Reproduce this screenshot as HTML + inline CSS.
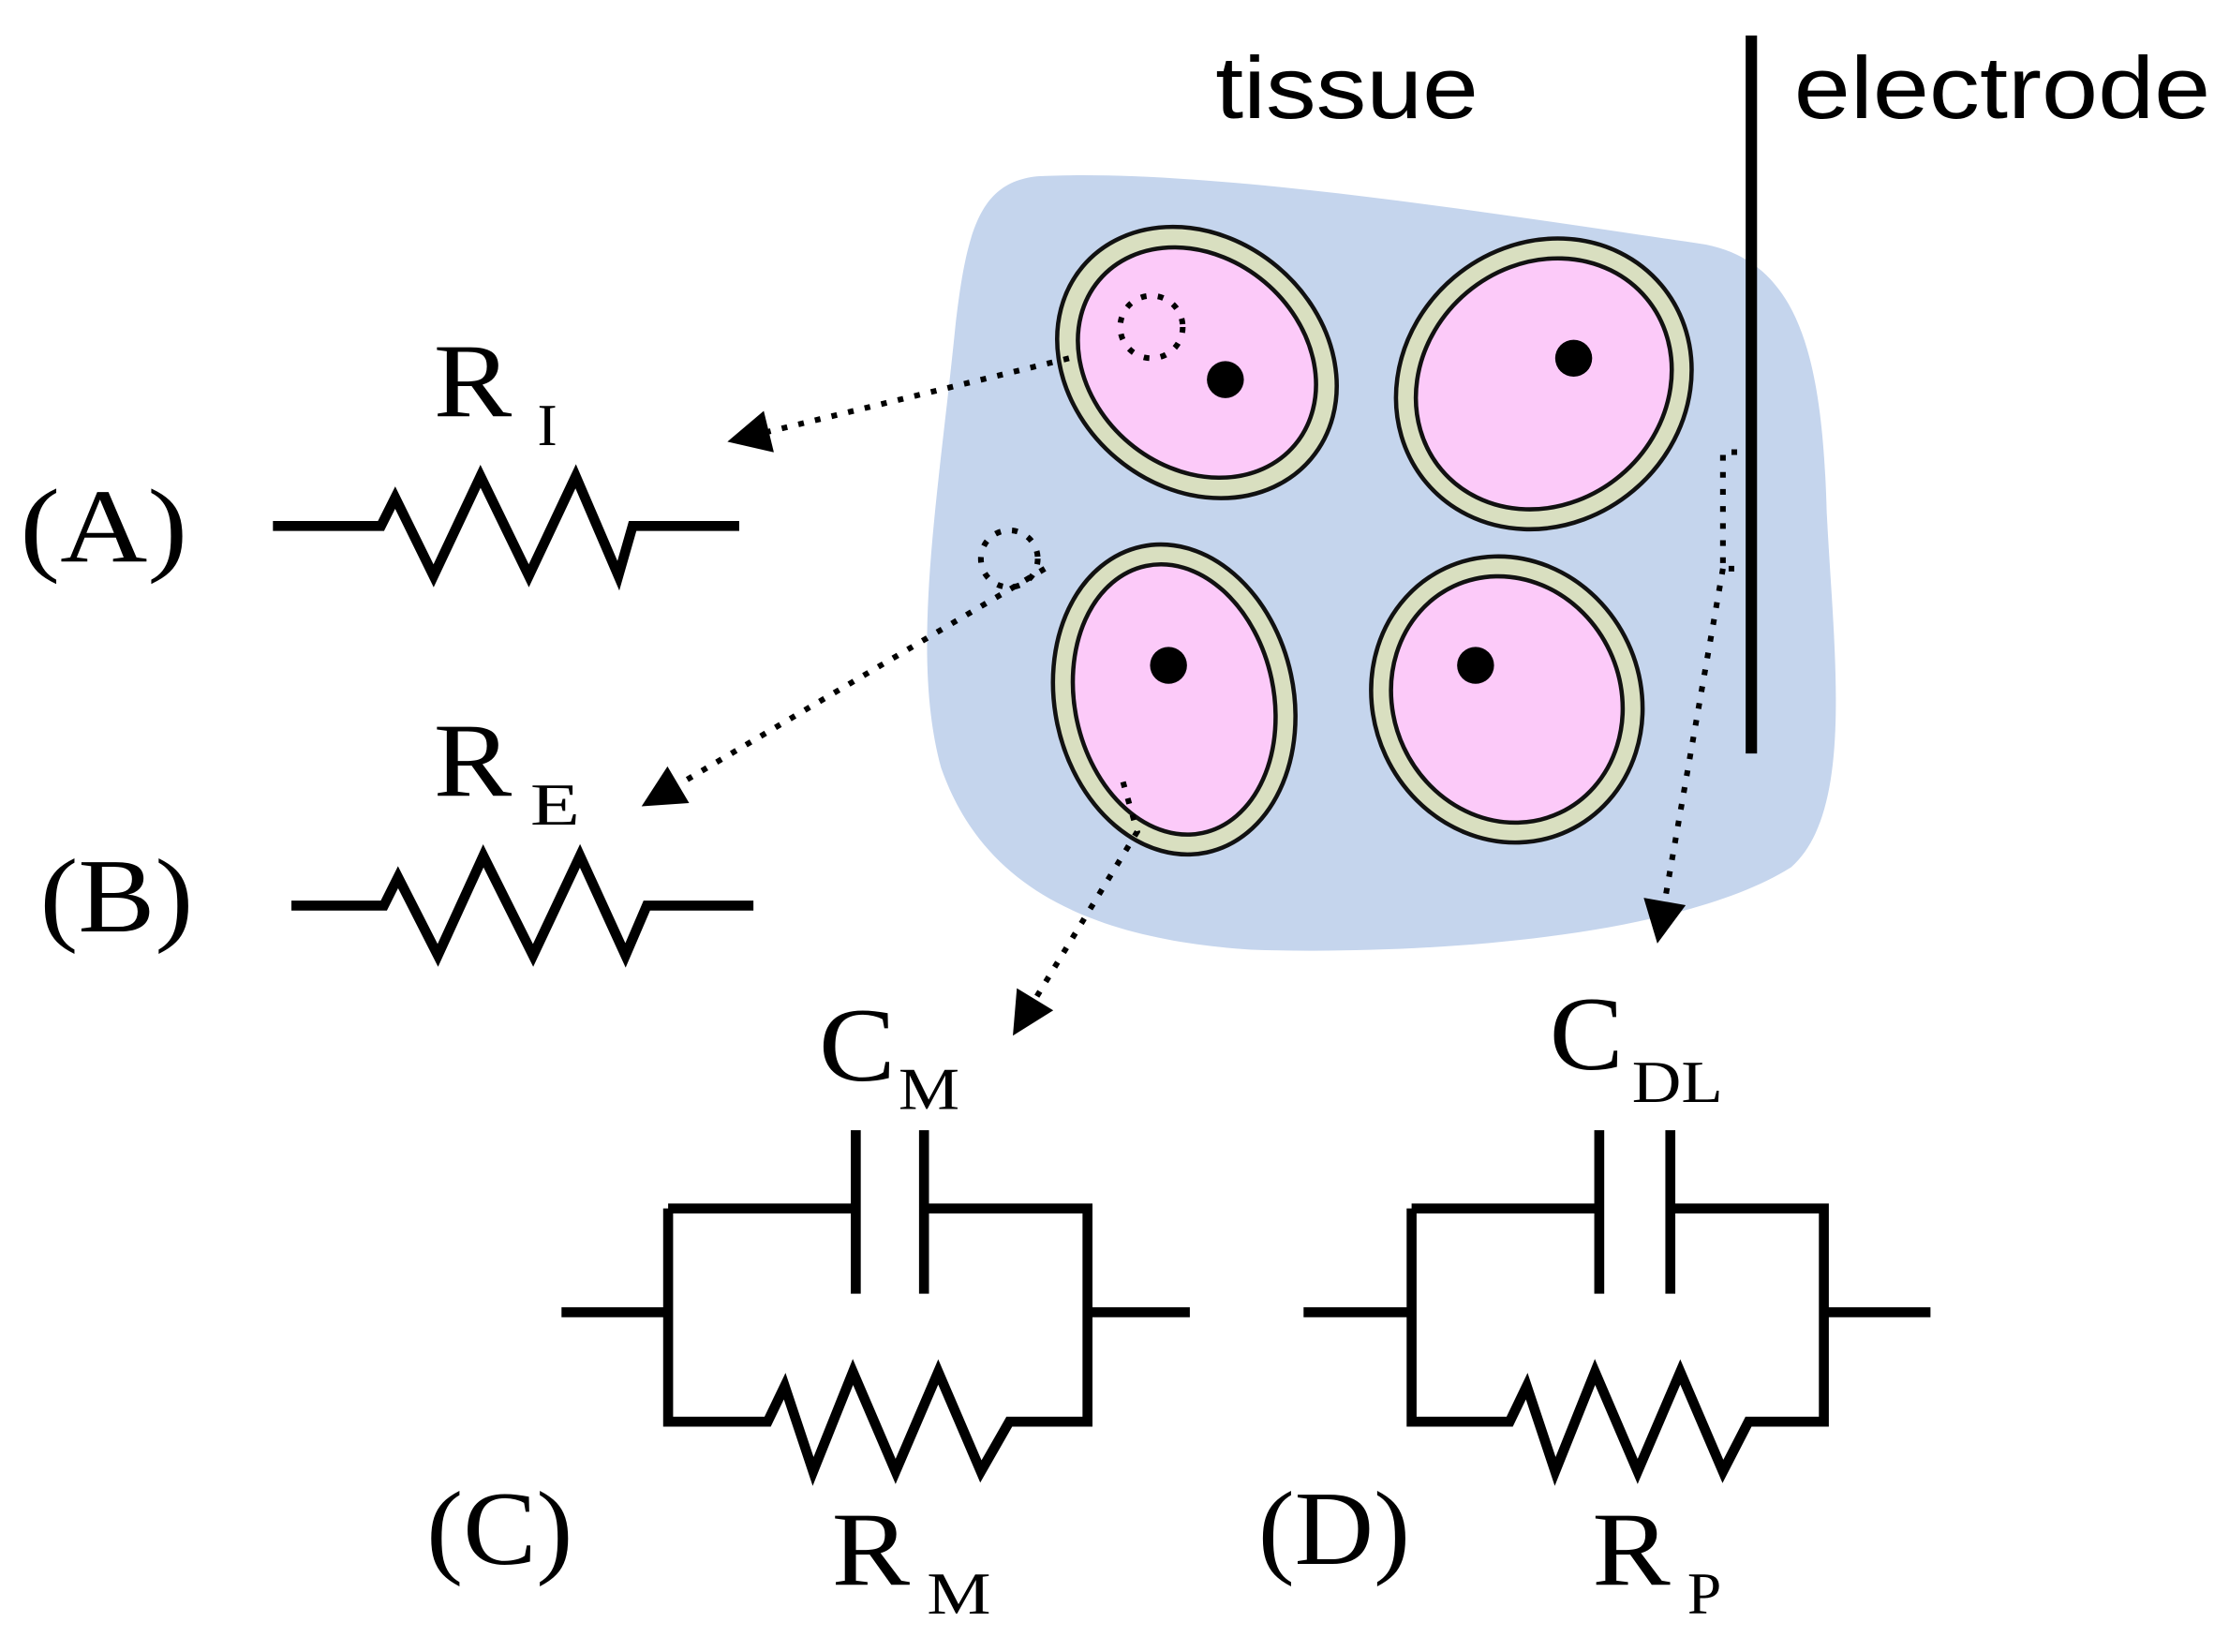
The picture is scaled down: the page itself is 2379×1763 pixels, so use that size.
<!DOCTYPE html>
<html><head><meta charset="utf-8"><style>
html,body{margin:0;padding:0;background:#fff;width:2379px;height:1763px;overflow:hidden}
svg{display:block}
.s{font-family:"Liberation Sans",sans-serif}
.r{font-family:"Liberation Serif",serif}
</style></head><body>
<svg width="2379" height="1763" viewBox="0 0 1568 1162" preserveAspectRatio="none" xmlns="http://www.w3.org/2000/svg">
<defs><marker id="ah" viewBox="0 0 10 10" refX="2" refY="5" markerWidth="34" markerHeight="30" orient="auto" markerUnits="userSpaceOnUse"><path d="M0,0L10,5L0,10z" fill="#000"/></marker></defs>
<path d="M730,124 C850,118 1050,150 1200,172 C1265,185 1282,250 1285,360 C1290,460 1305,570 1260,610 C1180,660 1000,672 880,668 C760,660 690,620 662,540 C640,460 660,350 672,230 C680,160 690,128 730,124 Z" fill="#c5d5ed"/>
<g stroke="#111" stroke-width="3">
<ellipse cx="842" cy="255" rx="105" ry="88" transform="rotate(40 842 255)" fill="#d9dfc0"/>
<ellipse cx="842" cy="255" rx="90" ry="74" transform="rotate(40 842 255)" fill="#fccaf9"/>
<ellipse cx="1086" cy="270" rx="108" ry="98" transform="rotate(-40 1086 270)" fill="#d9dfc0"/>
<ellipse cx="1086" cy="270" rx="94" ry="84" transform="rotate(-40 1086 270)" fill="#fccaf9"/>
<ellipse cx="826" cy="492" rx="84" ry="110" transform="rotate(-12 826 492)" fill="#d9dfc0"/>
<ellipse cx="826" cy="492" rx="70" ry="96" transform="rotate(-12 826 492)" fill="#fccaf9"/>
<ellipse cx="1060" cy="492" rx="94" ry="102" transform="rotate(-25 1060 492)" fill="#d9dfc0"/>
<ellipse cx="1060" cy="492" rx="80" ry="88" transform="rotate(-25 1060 492)" fill="#fccaf9"/>
</g>
<g fill="#000"><circle cx="862" cy="267" r="13"/><circle cx="1107" cy="252" r="13"/><circle cx="822" cy="468" r="13"/><circle cx="1038" cy="468" r="13"/></g>
<line x1="1232" y1="25" x2="1232" y2="530" stroke="#000" stroke-width="8"/>
<g fill="none" stroke="#000" stroke-width="4" stroke-dasharray="4,8">
<circle cx="810" cy="230" r="22"/><circle cx="710" cy="393" r="20"/>
<path d="M752,252 L535,305" marker-end="url(#ah)"/>
<path d="M735,400 L472,555" marker-end="url(#ah)"/>
<path d="M790,550 L800,585 L725,708" marker-end="url(#ah)"/>
<path d="M1222,318 L1212,318 L1212,400 L1222,400 M1212,400 L1170,640" marker-end="url(#ah)"/>
</g>
<g fill="none" stroke="#000" stroke-width="7" stroke-linejoin="miter">
<path d="M192,370 H268 L278,350 L305,405 L338,335 L372,405 L405,335 L435,405 L445,370 H520"/>
<path d="M205,637 H270 L280,617 L308,672 L340,602 L375,672 L408,602 L440,672 L455,637 H530"/>
<path d="M395,923 H470 M765,923 H837 M470,850 V1000 H540 L552,975 L572,1035 L600,965 L630,1035 L660,965 L690,1035 L710,1000 H765 V850 H650 M602,850 H470 M602,795 V910 M650,795 V910"/>
<path d="M917,923 H993 M1285,923 H1358 M993,850 V1000 H1062 L1074,975 L1094,1035 L1122,965 L1152,1035 L1182,965 L1212,1035 L1230,1000 H1283 V850 H1175 M1125,850 H993 M1125,795 V910 M1175,795 V910"/>
</g>
<g fill="#000">
<text x="855" y="83" class="s" font-size="62" textLength="185" lengthAdjust="spacingAndGlyphs">tissue</text>
<text x="1262" y="83" class="s" font-size="62" textLength="293" lengthAdjust="spacingAndGlyphs">electrode</text>
<text x="14" y="395" class="r" font-size="74" textLength="118" lengthAdjust="spacingAndGlyphs">(A)</text>
<text x="28" y="655" class="r" font-size="74" textLength="108" lengthAdjust="spacingAndGlyphs">(B)</text>
<text x="300" y="1100" class="r" font-size="74" textLength="103" lengthAdjust="spacingAndGlyphs">(C)</text>
<text x="885" y="1100" class="r" font-size="74" textLength="107" lengthAdjust="spacingAndGlyphs">(D)</text>
<text x="305" y="293" class="r" font-size="74" textLength="55" lengthAdjust="spacingAndGlyphs">R</text><text x="378" y="313" class="r" font-size="42">I</text>
<text x="305" y="560" class="r" font-size="74" textLength="55" lengthAdjust="spacingAndGlyphs">R</text><text x="373" y="580" class="r" font-size="42" textLength="35" lengthAdjust="spacingAndGlyphs">E</text>
<text x="576" y="760" class="r" font-size="74" textLength="54" lengthAdjust="spacingAndGlyphs">C</text><text x="632" y="780" class="r" font-size="42" textLength="43" lengthAdjust="spacingAndGlyphs">M</text>
<text x="1090" y="752" class="r" font-size="74" textLength="52" lengthAdjust="spacingAndGlyphs">C</text><text x="1148" y="775" class="r" font-size="42" textLength="64" lengthAdjust="spacingAndGlyphs">DL</text>
<text x="585" y="1115" class="r" font-size="74" textLength="55" lengthAdjust="spacingAndGlyphs">R</text><text x="652" y="1135" class="r" font-size="42" textLength="45" lengthAdjust="spacingAndGlyphs">M</text>
<text x="1120" y="1115" class="r" font-size="74" textLength="55" lengthAdjust="spacingAndGlyphs">R</text><text x="1187" y="1135" class="r" font-size="42" textLength="24" lengthAdjust="spacingAndGlyphs">P</text>
</g>
</svg>
</body></html>
